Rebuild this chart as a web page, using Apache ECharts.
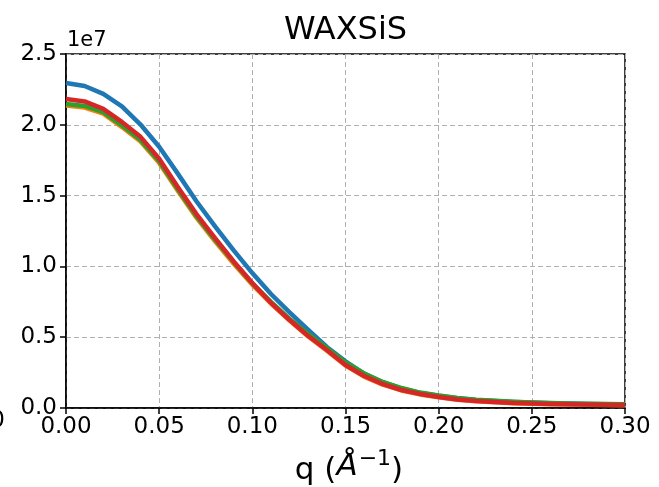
<!DOCTYPE html>
<html>
<head>
<meta charset="utf-8">
<script src="https://cdn.jsdelivr.net/npm/echarts@6/dist/echarts.min.js"></script>
<style>
html,body{margin:0;padding:0;background:#fff;}
#chart{width:659px;height:487px;}
</style>
</head>
<body>
<div id="chart"></div>
<script>
// q values (Å^-1)
var q = [0.00,0.01,0.02,0.03,0.04,0.05,0.06,0.07,0.08,0.09,0.10,0.11,0.12,0.13,0.14,0.15,
         0.16,0.17,0.18,0.19,0.20,0.21,0.22,0.23,0.24,0.25,0.26,0.27,0.28,0.29,0.30];
// intensities in units of 1e7
var blue   = [2.295,2.274,2.218,2.130,2.002,1.845,1.655,1.460,1.283,1.113,0.953,0.805,0.675,0.551,0.431,0.330,
              0.243,0.182,0.139,0.107,0.086,0.069,0.057,0.049,0.043,0.038,0.034,0.031,0.029,0.027,0.025];
var orange = [2.136,2.122,2.079,1.984,1.882,1.731,1.534,1.344,1.177,1.019,0.870,0.738,0.618,0.505,0.405,0.300,
              0.222,0.165,0.124,0.096,0.075,0.058,0.047,0.040,0.034,0.030,0.027,0.025,0.023,0.022,0.020];
var green  = [2.147,2.133,2.090,1.995,1.893,1.742,1.545,1.355,1.188,1.030,0.880,0.749,0.629,0.523,0.424,0.322,
              0.244,0.184,0.141,0.109,0.088,0.071,0.059,0.051,0.044,0.039,0.035,0.032,0.030,0.028,0.026];
var red    = [2.182,2.165,2.112,2.020,1.915,1.760,1.560,1.370,1.200,1.035,0.883,0.742,0.621,0.508,0.410,0.304,
              0.226,0.169,0.127,0.099,0.078,0.060,0.049,0.042,0.035,0.032,0.028,0.026,0.024,0.023,0.021];
var xTicks = [0.00,0.05,0.10,0.15,0.20,0.25,0.30];
var yTicks = [0.0,0.5,1.0,1.5,2.0,2.5];

function pairs(ys){ return q.map(function(x,i){ return [x, ys[i]]; }); }

var FONT = 'DejaVu Sans';
var chart = echarts.init(document.getElementById('chart'), null, {renderer:'canvas'});
function mk(name, ys, color){
  return {name:name, type:'line', data:pairs(ys), showSymbol:false, symbol:'none',
          lineStyle:{color:color, width:4.5, join:'round', cap:'butt'}, animation:false, z:2};
}
chart.setOption({
  animation:false,
  backgroundColor:'#ffffff',
  grid:{left:66, right:34, top:54, bottom:79, show:true, borderColor:'#000', borderWidth:1.5, backgroundColor:'transparent'},
  xAxis:{type:'value', min:xTicks[0], max:xTicks[xTicks.length-1], interval:0.05,
    axisLine:{show:true, onZero:false, lineStyle:{color:'#000', width:1.5}},
    axisTick:{show:true, inside:false, length:6, lineStyle:{color:'#000', width:1.5}},
    axisLabel:{color:'#000', fontFamily:FONT, fontSize:23, margin:8,
      formatter:function(v){ return v.toFixed(2); }},
    splitLine:{show:true, lineStyle:{color:'#b0b0b0', width:1, type:[5,3]}}
  },
  yAxis:{type:'value', min:yTicks[0], max:yTicks[yTicks.length-1], interval:0.5,
    axisLine:{show:true, onZero:false, lineStyle:{color:'#000', width:1.5}},
    axisTick:{show:true, inside:false, length:6, lineStyle:{color:'#000', width:1.5}},
    axisLabel:{color:'#000', fontFamily:FONT, fontSize:23, margin:9,
      formatter:function(v){ return v.toFixed(1); }},
    splitLine:{show:true, lineStyle:{color:'#b0b0b0', width:1, type:[5,3]}}
  },
  series:[
    mk('blue', blue, '#1f77b4'),
    mk('orange', orange, '#ff7f0e'),
    mk('green', green, '#2ca02c'),
    mk('red', red, '#d62728')
  ],
  graphic:[
    {type:'text', style:{text:'WAXSiS', x:345.5, y:47, align:'center', verticalAlign:'bottom',
      font:'32px "DejaVu Sans"', fill:'#000'}},
    {type:'text', style:{text:'1e7', x:67, y:51, align:'left', verticalAlign:'bottom',
      font:'21px "DejaVu Sans"', fill:'#000'}},
    {type:'text', style:{text:'0', x:5, y:421, align:'right', verticalAlign:'middle',
      font:'23px "DejaVu Sans"', fill:'#000'}},
    {type:'text', style:{
      text:'{a|q (}{b|Å}{c|−1}{a|)}', x:349, y:486, align:'center', verticalAlign:'bottom',
      rich:{
        a:{fontFamily:FONT, fontSize:31, fill:'#000', color:'#000', verticalAlign:'bottom'},
        b:{fontFamily:FONT, fontSize:31, fontStyle:'italic', fill:'#000', color:'#000'},
        c:{fontFamily:FONT, fontSize:22, fill:'#000', color:'#000', padding:[0,0,16,1]}
      }}}
  ]
});
</script>
</body>
</html>
